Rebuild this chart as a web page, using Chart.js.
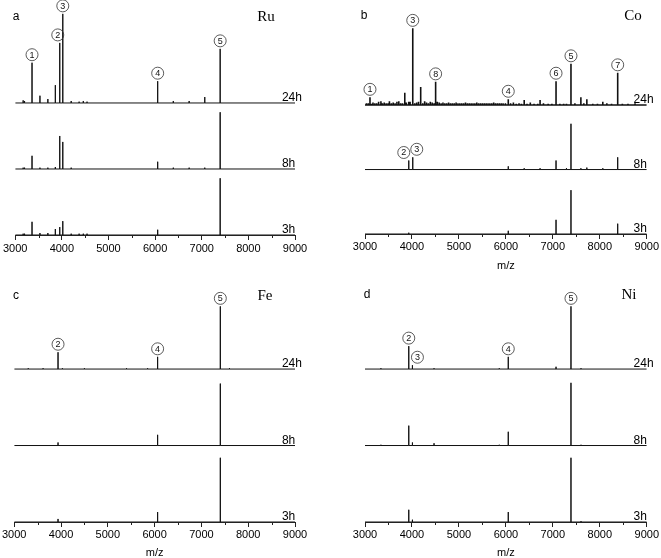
<!DOCTYPE html>
<html><head><meta charset="utf-8">
<script src="https://cdn.jsdelivr.net/npm/chart.js@4.4.1/dist/chart.umd.min.js"></script>
<style>
html,body{margin:0;padding:0;background:#fff;width:661px;height:558px;overflow:hidden;position:relative}
canvas{position:absolute}
</style></head><body>
<canvas id="pa" width="330" height="279" style="left:0;top:0"></canvas>
<canvas id="pb" width="331" height="279" style="left:330px;top:0"></canvas>
<canvas id="pc" width="330" height="296" style="left:0;top:262px"></canvas>
<canvas id="pd" width="331" height="296" style="left:330px;top:262px"></canvas>
<script>
// ---- shared axis data ----
const xTicks = [3000, 4000, 5000, 6000, 7000, 8000, 9000];
const minorTicks = [3500, 4500, 5500, 6500, 7500, 8500];
const times = ['24h', '8h', '3h'];
const timeOffsets = [200, 100, 0];

// ---- panel a : Ru ----
const ruMz   = [3170, 3200, 3360, 3530, 3700, 3860, 3955, 4020, 4200, 4370, 4460, 4540, 6055, 6390, 6730, 7065, 7395];
const ru24   = [4, 3, 61, 11, 6, 27, 91, 135, 3, 2, 3, 2, 33, 3, 3, 9, 82];
const ru8    = [2, 2, 20, 2, 2, 3, 50, 41, 2, 0, 0, 0, 11, 2, 2, 2, 86];
const ru3    = [2, 2, 20, 3, 3, 9, 12, 21, 2, 2, 2, 2, 8, 0, 0, 0, 86];
const ruTag24 = ['', '', '1', '', '', '', '2', '3', '', '', '', '', '4', '', '', '', '5'];

// ---- panel b : Co ----
const coMz   = [3106, 3339, 3847, 3932, 4017, 4186, 4504, 6051, 6390, 6728, 7068, 7290, 7386, 7597, 7724, 8064, 8381];
const co24   = [12, 6, 19, 5, 119, 28, 36, 9, 8, 8, 37, 2, 64, 12, 9, 5, 50];
const co8    = [0, 0, 0, 14, 19, 0, 0, 5, 2, 2, 14, 2, 71, 2, 3, 2, 19];
const co3    = [0, 0, 0, 2, 0, 0, 0, 5, 0, 0, 22, 0, 68, 0, 0, 0, 16];
const coTag24 = ['1', '', '', '', '3', '', '8', '4', '', '', '6', '', '5', '', '', '', '7'];
const coTag8  = ['', '', '', '2', '3', '', '', '', '', '', '', '', '', '', '', '', ''];
const coNoiseMz = [3030,3070,3140,3170,3210,3250,3290,3370,3410,3450,
  3490,3520,3560,3600,3640,3680,3720,3760,3800,3880,
  3960,4060,4100,4140,4230,4270,4310,4350,4390,4430,
  4470,4540,4580,4620,4660,4700,4740,4780,4820,4860,
  4900,4940,4980,5020,5060,5100,5140,5180,5220,5260,
  5300,5340,5380,5420,5460,5500,5540,5580,5620,5660,
  5700,5740,5780,5820,5860,5900,5940,5990,6100,6160,
  6220,6280,6330,6450,6520,6600,6680,6800,6900,6980,
  7150,7230,7470,7660,7850,7950,8150,8250,8480,8600,8750];
const coNoise24 = [3,3,2,4,3,3,5,3,4,3,
  3,6,3,4,3,5,6,3,3,4,
  5,3,4,5,3,6,4,3,5,4,
  3,5,4,3,4,3,3,4,3,3,
  3,4,3,3,3,3,4,3,3,3,
  3,3,4,3,3,3,3,3,3,3,
  3,4,3,3,3,3,3,3,3,4,
  2,3,2,2,4,2,2,3,2,2,
  2,2,3,3,2,2,3,2,2,2,3];

// ---- panel c : Fe ----
const feMz   = [3300, 3617, 3936, 4030, 4500, 5400, 5850, 6064, 7404, 7600];
const fe24   = [1, 1, 22, 1, 1, 1, 1, 16, 82, 1];
const fe8    = [0, 0, 4, 0, 0, 0, 0, 14, 81, 0];
const fe3    = [0, 0, 4, 0, 0, 0, 0, 13, 84, 0];
const feTag24 = ['', '', '2', '', '', '', '', '4', '5', ''];

// ---- panel d : Ni ----
const niMz   = [3339, 3932, 4010, 4470, 5860, 6051, 7068, 7386, 7600];
const ni24   = [1, 30, 5, 1, 1, 16, 3, 82, 1];
const ni8    = [1, 26, 4, 3, 1, 18, 0, 82, 1];
const ni3    = [0, 16, 3, 0, 0, 13, 0, 84, 1];
const niTag24 = ['', '2', '3', '', '', '4', '', '5', ''];

Chart.defaults.font.family = '"Liberation Sans", Arial, sans-serif';
Chart.defaults.color = '#000';

function sticks(mz, h, base, extraMz, extraH) {
  const peaks = mz.map((m, i) => [m, h[i]]);
  if (extraMz) extraMz.forEach((m, i) => peaks.push([m, extraH[i]]));
  peaks.sort((a, b) => a[0] - b[0]);
  const pts = [{x: xTicks[0], y: base}];
  peaks.forEach(([m, v]) => { if (v > 0) pts.push({x: m, y: base}, {x: m, y: base + v}, {x: m, y: base}); });
  pts.push({x: xTicks[xTicks.length - 1], y: base});
  return pts;
}

function series(mz, vals, tags, k, extraMz, extraH, width) {
  return {
    label: times[k], offset: timeOffsets[k], mz: mz, vals: vals, tags: tags,
    data: sticks(mz, vals, timeOffsets[k], extraMz, extraH),
    showLine: true, borderColor: '#111', borderWidth: width || 1, pointRadius: 0,
    borderJoinStyle: 'bevel', tension: 0
  };
}

const decor = {
  id: 'decor',
  afterDatasetsDraw(chart, args, o) {
    const ctx = chart.ctx, xs = chart.scales.x, ys = chart.scales.y;
    ctx.save();
    // minor ticks
    ctx.strokeStyle = '#222'; ctx.lineWidth = 1;
    minorTicks.forEach(v => {
      const px = Math.round(xs.getPixelForValue(v)) + 0.5;
      ctx.beginPath(); ctx.moveTo(px, ys.bottom); ctx.lineTo(px, ys.bottom + 3); ctx.stroke();
    });
    chart.data.datasets.forEach(ds => {
      // time label
      ctx.fillStyle = '#000'; ctx.font = '12px "Liberation Sans", Arial';
      ctx.textAlign = 'left'; ctx.textBaseline = 'alphabetic';
      ctx.fillText(ds.label, xs.getPixelForValue(8720), ys.getPixelForValue(ds.offset) - 2);
      // circled peak tags
      if (!ds.tags) return;
      ds.tags.forEach((t, i) => {
        if (!t) return;
        const px = xs.getPixelForValue(ds.mz[i]) + ((o.nudge || {})[ds.label + ':' + t] || 0);
        const py = ys.getPixelForValue(ds.offset + ds.vals[i]) - 8;
        ctx.beginPath(); ctx.arc(px, py, 6, 0, 2 * Math.PI);
        ctx.lineWidth = 0.8; ctx.strokeStyle = '#333'; ctx.stroke();
        ctx.fillStyle = '#111'; ctx.font = '9px "Liberation Sans", Arial';
        ctx.textAlign = 'center'; ctx.textBaseline = 'middle';
        ctx.fillText(t, px, py + 0.5);
      });
    });
    // panel letter and element
    ctx.fillStyle = '#000'; ctx.textAlign = 'center'; ctx.textBaseline = 'middle';
    ctx.font = '12px "Liberation Sans", Arial';
    ctx.fillText(o.letter.text, o.letter.x, o.letter.y);
    ctx.font = '15px "Liberation Serif", "Times New Roman", serif';
    ctx.fillText(o.element.text, o.element.x, o.element.y);
    ctx.restore();
  }
};

function makeChart(id, datasets, yMax, pad, withTitle, tickPad, titlePadTop, deco) {
  return new Chart(document.getElementById(id), {
    type: 'scatter',
    data: {datasets: datasets},
    options: {
      responsive: false, animation: false, devicePixelRatio: 1, events: [],
      layout: {padding: pad},
      plugins: {legend: {display: false}, tooltip: {enabled: false}, decor: deco},
      scales: {
        x: {
          type: 'linear', min: xTicks[0], max: xTicks[xTicks.length - 1],
          afterBuildTicks: s => { s.ticks = xTicks.map(v => ({value: v})); },
          ticks: {autoSkip: false, maxRotation: 0, padding: tickPad, color: '#000',
                  font: {size: 11, lineHeight: 1}, callback: v => String(v)},
          grid: {display: true, drawOnChartArea: false, drawTicks: true, tickLength: 5, tickColor: '#222'},
          border: {display: true, color: '#222', width: 1},
          title: {display: withTitle, text: 'm/z', color: '#000', font: {size: 11, lineHeight: 1},
                  padding: {top: titlePadTop, bottom: 0}}
        },
        y: {display: false, min: 0, max: yMax}
      }
    },
    plugins: [decor]
  });
}

makeChart('pa', [
  series(ruMz, ru24, ruTag24, 0),
  series(ruMz, ru8, null, 1),
  series(ruMz, ru3, null, 2)
], 356, {left: 13, right: 35, top: 0, bottom: 22}, false, 3, 0,
  {letter: {text: 'a', x: 16, y: 17}, element: {text: 'Ru', x: 266, y: 17}, nudge: {'24h:2': -2}});

makeChart('pb', [
  series(coMz, co24, coTag24, 0, coNoiseMz, coNoise24, 1.6),
  series(coMz, co8, coTag8, 1),
  series(coMz, co3, null, 2)
], 363, {left: 35, right: 13, top: 0, bottom: 7.5}, true, 2, 6.5,
  {letter: {text: 'b', x: 34, y: 16}, element: {text: 'Co', x: 303, y: 16}, nudge: {'8h:2': -5, '8h:3': 4}});

makeChart('pc', [
  series(feMz, fe24, feTag24, 0),
  series(feMz, fe8, null, 1),
  series(feMz, fe3, null, 2)
], 340, {left: 13, right: 35, top: 0, bottom: 0}, true, 2, 5,
  {letter: {text: 'c', x: 16, y: 34}, element: {text: 'Fe', x: 265, y: 34}, nudge: {}});

makeChart('pd', [
  series(niMz, ni24, niTag24, 0),
  series(niMz, ni8, null, 1),
  series(niMz, ni3, null, 2)
], 340, {left: 35, right: 13, top: 0, bottom: 0}, true, 2, 5,
  {letter: {text: 'd', x: 37, y: 33}, element: {text: 'Ni', x: 299, y: 33}, nudge: {'24h:3': 5}});
</script>
</body></html>
